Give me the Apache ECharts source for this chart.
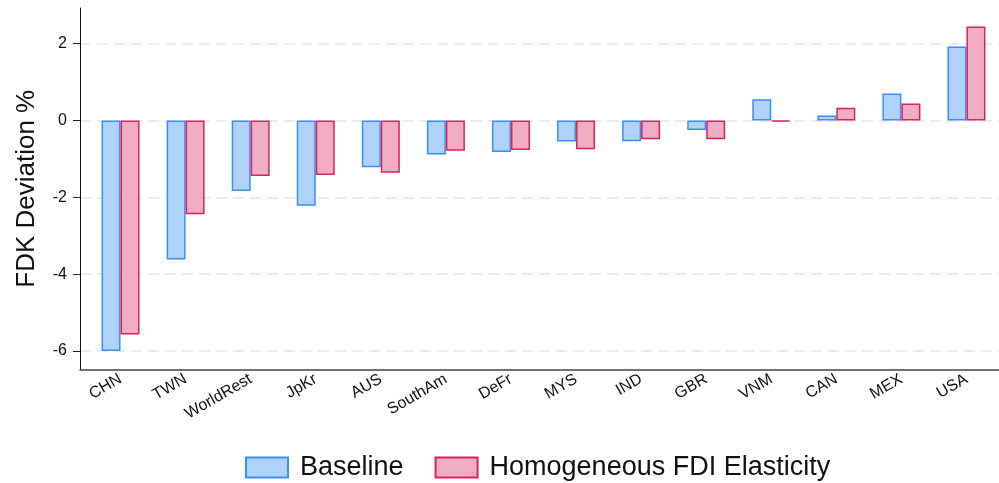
<!DOCTYPE html>
<html>
<head>
<meta charset="utf-8">
<script src="https://cdn.jsdelivr.net/npm/echarts@6/dist/echarts.min.js"></script>
<style>
  html, body { margin: 0; padding: 0; background: #fff; }
  #chart { width: 999px; height: 483px; }
</style>
</head>
<body>
<div id="chart"></div>
<script>
// Country groups along the horizontal axis
const categories = ['CHN', 'TWN', 'WorldRest', 'JpKr', 'AUS', 'SouthAm', 'DeFr', 'MYS', 'IND', 'GBR', 'VNM', 'CAN', 'MEX', 'USA'];
// FDK deviation (%) per scenario
const baseline = [-6.00, -3.62, -1.84, -2.22, -1.22, -0.89, -0.82, -0.55, -0.54, -0.25, 0.55, 0.13, 0.70, 1.92];
const homogeneous = [-5.57, -2.44, -1.45, -1.42, -1.36, -0.79, -0.77, -0.75, -0.49, -0.49, -0.03, 0.33, 0.44, 2.44];
// Value-axis ticks
const yTicks = { min: -6, max: 2, step: 2 };

const FONT = "'Liberation Sans', Arial, Helvetica, sans-serif";
const chart = echarts.init(document.getElementById('chart'), null, { renderer: 'canvas' });

const option = {
  animation: false,
  backgroundColor: '#ffffff',
  textStyle: { fontFamily: FONT },
  grid: [
    // bars
    { left: 88, width: 912, top: 43.5, bottom: 132 },
    // tick labels + dashed grid lines
    { left: 80, right: 0, top: 43.5, bottom: 132 },
    // frame (axis lines and title)
    { left: 80, right: 0, top: 8, bottom: 113.5 }
  ],
  xAxis: [
    {
      gridIndex: 0, type: 'category', data: categories,
      axisLine: { show: false }, axisTick: { show: false },
      axisLabel: { rotate: 30, margin: 27, fontSize: 16, color: '#111', fontFamily: FONT, interval: 0 }
    },
    { gridIndex: 1, type: 'category', data: categories, show: false },
    {
      gridIndex: 2, type: 'category', data: categories,
      axisLine: { show: true, onZero: false, lineStyle: { color: '#444', width: 1.5 } },
      axisTick: { show: false }, axisLabel: { show: false }
    }
  ],
  yAxis: [
    { gridIndex: 0, type: 'value', min: yTicks.min, max: yTicks.max, interval: yTicks.step, show: false },
    {
      gridIndex: 1, type: 'value', min: yTicks.min, max: yTicks.max, interval: yTicks.step,
      axisLine: { show: false },
      axisTick: { show: true, length: 7, lineStyle: { color: '#222', width: 1 } },
      axisLabel: { margin: 13, fontSize: 16, color: '#111', fontFamily: FONT },
      splitLine: { show: true, lineStyle: { color: '#ececec', width: 2, type: [11, 6] } }
    },
    {
      gridIndex: 2, type: 'value', min: 0, max: 1,
      axisLine: { show: true, onZero: false, lineStyle: { color: '#111', width: 1 } },
      axisTick: { show: false }, axisLabel: { show: false }, splitLine: { show: false },
      name: 'FDK Deviation %', nameLocation: 'middle', nameGap: 40,
      nameTextStyle: { fontSize: 26, color: '#111', fontFamily: FONT }
    }
  ],
  legend: {
    left: 240, top: 449,
    icon: 'rect',
    itemWidth: 42, itemHeight: 20, itemGap: 31,
    textStyle: { fontSize: 27, color: '#111', fontFamily: FONT, padding: [0, 0, 0, 7] },
    data: ['Baseline', 'Homogeneous FDI Elasticity']
  },
  series: [
    {
      name: 'Baseline', type: 'bar', xAxisIndex: 0, yAxisIndex: 0,
      data: baseline, barWidth: 19, barGap: 0, clip: false,
      itemStyle: { color: '#afd3fd', borderColor: '#3a8ef3', borderWidth: 1.5 }
    },
    {
      name: 'Homogeneous FDI Elasticity', type: 'bar', xAxisIndex: 0, yAxisIndex: 0,
      data: homogeneous, barWidth: 19, barGap: 0, clip: false,
      itemStyle: { color: '#f0adc4', borderColor: '#d9225f', borderWidth: 1.5 }
    }
  ]
};

chart.setOption(option);
</script>
</body>
</html>
